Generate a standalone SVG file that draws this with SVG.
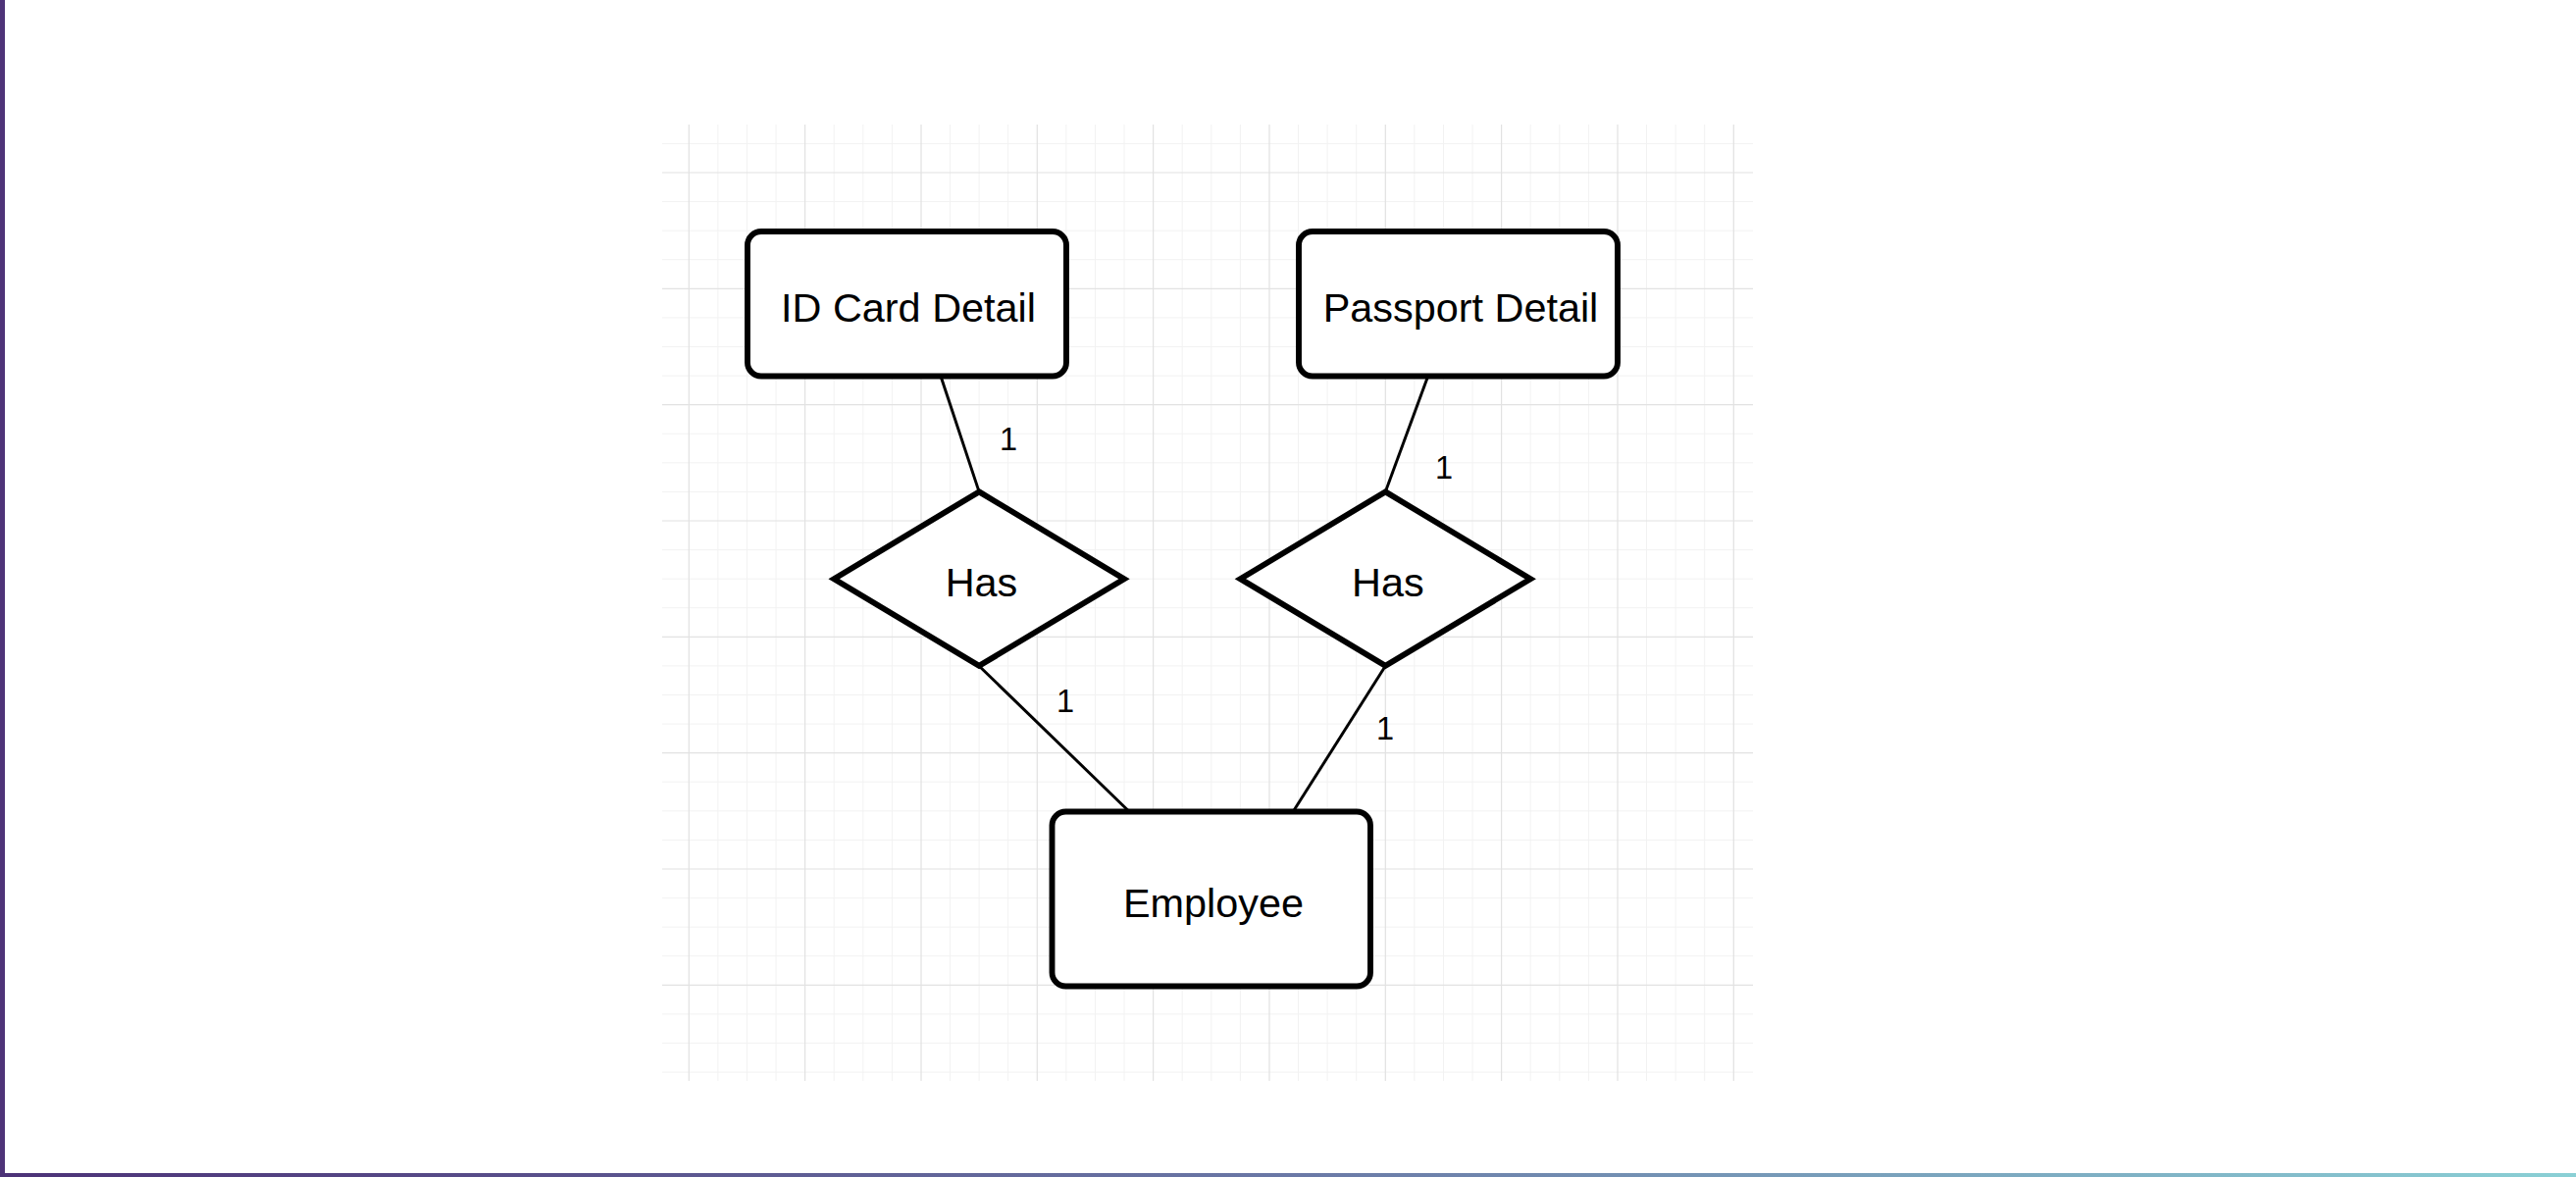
<svg xmlns="http://www.w3.org/2000/svg" width="2626" height="1200" viewBox="0 0 2626 1200">
  <defs>
    <linearGradient id="barGrad" x1="0" y1="0" x2="1" y2="0">
      <stop offset="0" stop-color="#4c3277"/>
      <stop offset="0.5" stop-color="#6a78a6"/>
      <stop offset="1" stop-color="#8ad0d5"/>
    </linearGradient>
    <style>
      .minor { stroke: #f2f2f2; stroke-width: 1; fill: none; }
      .major { stroke: #e2e2e2; stroke-width: 1.2; fill: none; }
      .shape { fill: #ffffff; stroke: #000000; stroke-width: 5.9; stroke-linejoin: miter; }
      .edge { stroke: #000000; stroke-width: 2.96; fill: none; }
      .label { font-family: "Liberation Sans", Arial, Helvetica, sans-serif; font-size: 41.4px; fill: #000000; text-anchor: middle; }
      .card { font-family: "Liberation Sans", Arial, Helvetica, sans-serif; font-size: 32.5px; fill: #000000; text-anchor: middle; }
    </style>
  </defs>

  <rect x="0" y="0" width="2626" height="1200" fill="#ffffff"/>

  <g id="grid">
    <path class="minor" d="M731.9 127V1102 M761.5 127V1102 M791.0 127V1102 M850.2 127V1102 M879.8 127V1102 M909.4 127V1102 M968.5 127V1102 M998.1 127V1102 M1027.7 127V1102 M1086.9 127V1102 M1116.5 127V1102 M1146.0 127V1102 M1205.2 127V1102 M1234.8 127V1102 M1264.4 127V1102 M1323.5 127V1102 M1353.1 127V1102 M1382.7 127V1102 M1441.9 127V1102 M1471.5 127V1102 M1501.0 127V1102 M1560.2 127V1102 M1589.8 127V1102 M1619.4 127V1102 M1678.5 127V1102 M1708.1 127V1102 M1737.7 127V1102
      M675 146.4H1787 M675 205.6H1787 M675 235.2H1787 M675 264.7H1787 M675 323.9H1787 M675 353.5H1787 M675 383.1H1787 M675 442.2H1787 M675 471.8H1787 M675 501.4H1787 M675 560.6H1787 M675 590.2H1787 M675 619.7H1787 M675 678.9H1787 M675 708.5H1787 M675 738.1H1787 M675 797.2H1787 M675 826.8H1787 M675 856.4H1787 M675 915.6H1787 M675 945.2H1787 M675 974.7H1787 M675 1033.9H1787 M675 1063.5H1787 M675 1093.1H1787"/>
    <path class="major" d="M702.3 127V1102 M820.6 127V1102 M939.0 127V1102 M1057.3 127V1102 M1175.6 127V1102 M1294.0 127V1102 M1412.3 127V1102 M1530.6 127V1102 M1649.0 127V1102 M1767.3 127V1102
      M675 176.0H1787 M675 294.3H1787 M675 412.7H1787 M675 531.0H1787 M675 649.3H1787 M675 767.7H1787 M675 886.0H1787 M675 1004.3H1787"/>
  </g>

  <g id="connectors">
    <line class="edge" x1="959" y1="383.5" x2="998.1" y2="501.4"/>
    <line class="edge" x1="1455.7" y1="383.5" x2="1412.3" y2="501.4"/>
    <line class="edge" x1="998.1" y1="679" x2="1150.7" y2="827"/>
    <line class="edge" x1="1412.3" y1="679" x2="1318.5" y2="827"/>
    <text class="card" x="1028" y="459">1</text>
    <text class="card" x="1472" y="487.5">1</text>
    <text class="card" x="1086" y="725.7">1</text>
    <text class="card" x="1412" y="754">1</text>
  </g>

  <g id="id-card-detail">
    <rect class="shape" x="762" y="236" width="325" height="147.5" rx="14" ry="14"/>
    <text class="label" x="926" y="328.3">ID Card Detail</text>
  </g>

  <g id="passport-detail">
    <rect class="shape" x="1324" y="236" width="325" height="147.5" rx="14" ry="14"/>
    <text class="label" x="1489" y="328.3">Passport Detail</text>
  </g>

  <g id="has-1">
    <polygon class="shape" points="998.1,501.4 1146,590.2 998.1,678.9 850.2,590.2"/>
    <text class="label" x="1000.5" y="608.3">Has</text>
  </g>

  <g id="has-2">
    <polygon class="shape" points="1412.3,501.4 1560.2,590.2 1412.3,678.9 1264.4,590.2"/>
    <text class="label" x="1414.8" y="608.3">Has</text>
  </g>

  <g id="employee">
    <rect class="shape" x="1072.5" y="827.5" width="324.5" height="178" rx="14" ry="14"/>
    <text class="label" x="1237" y="935">Employee</text>
  </g>

  <rect x="0" y="0" width="5" height="1200" fill="#4e3378"/>
  <rect x="0" y="1196" width="2626" height="4" fill="url(#barGrad)"/>
</svg>
